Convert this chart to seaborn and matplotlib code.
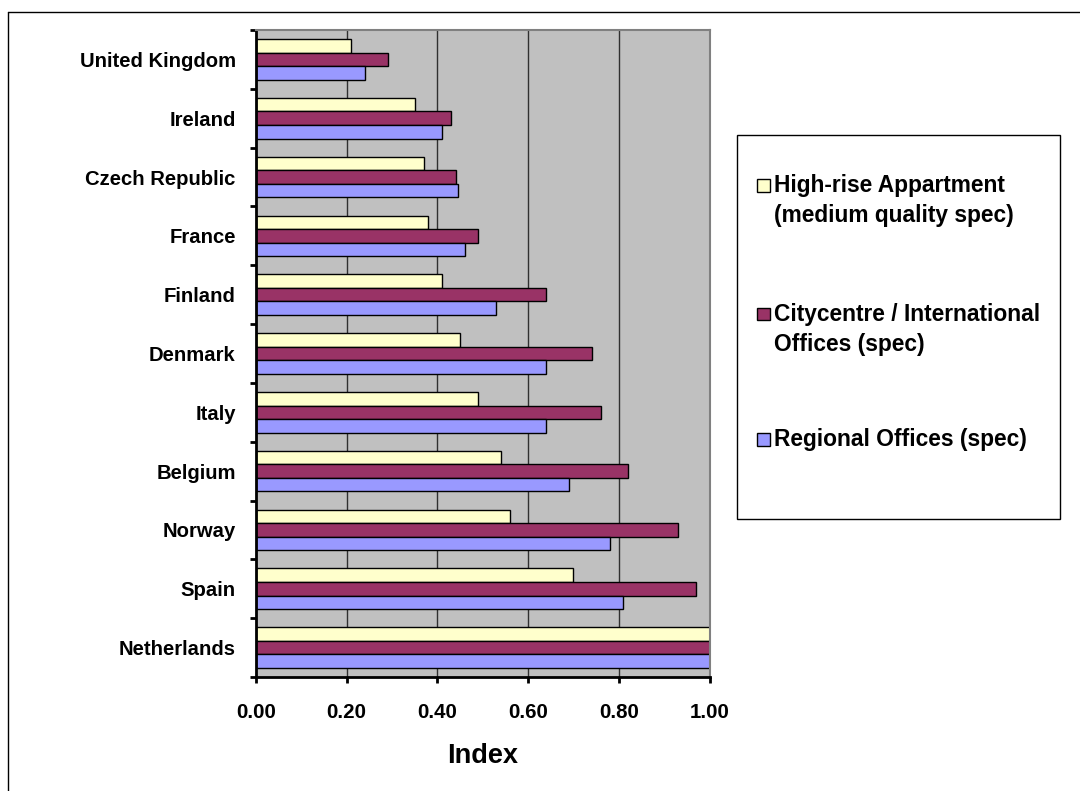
import numpy as np
import pandas as pd
import seaborn as sns
import matplotlib.pyplot as plt
from matplotlib.patches import Rectangle
from matplotlib.lines import Line2D

# Construction cost index by country (Netherlands = 1.00)
countries = ["United Kingdom", "Ireland", "Czech Republic", "France", "Finland",
             "Denmark", "Italy", "Belgium", "Norway", "Spain", "Netherlands"]
series = ["High-rise Appartment\n(medium quality spec)",
          "Citycentre / International\nOffices (spec)",
          "Regional Offices (spec)"]
apartment = [0.21, 0.35, 0.37, 0.38, 0.41, 0.45, 0.49, 0.54, 0.56, 0.70, 1.00]
citycentre = [0.29, 0.43, 0.44, 0.49, 0.64, 0.74, 0.76, 0.82, 0.93, 0.97, 1.00]
regional = [0.24, 0.41, 0.445, 0.46, 0.53, 0.64, 0.64, 0.69, 0.78, 0.81, 1.00]
x_ticks = [0.0, 0.2, 0.4, 0.6, 0.8, 1.0]
colors = ["#FFFFCC", "#993366", "#9999FF"]

df = pd.DataFrame({
    "Country": countries * 3,
    "Series": np.repeat(series, len(countries)),
    "Index": apartment + citycentre + regional,
})

sns.set_theme(style="white")
plt.rcParams["font.family"] = ["Liberation Sans", "DejaVu Sans"]
plt.rcParams.update({"text.color": "black", "axes.labelcolor": "black",
                     "xtick.color": "black", "ytick.color": "black"})

W, H = 1080, 791
fig = plt.figure(figsize=(W / 100, H / 100), dpi=100)
fig.patch.set_facecolor("white")

ax = fig.add_axes([256 / W, 1 - 677 / H, (709.5 - 256) / W, (677 - 30) / H])
ax.set_facecolor("#C0C0C0")

sns.barplot(data=df, y="Country", x="Index", hue="Series",
            order=countries, hue_order=series, palette=colors,
            orient="h", width=0.69, edgecolor="black", linewidth=1,
            saturation=1, legend=False, ax=ax)

ax.set_xlim(0, 1)
ax.set_ylim(len(countries) - 0.5, -0.5)

# vertical gridlines behind the bars
for gx in x_ticks[1:-1]:
    ax.axvline(gx, color="#303030", lw=1, zorder=0.5)

# axis lines
for side in ["left", "bottom"]:
    ax.spines[side].set_color("black")
    ax.spines[side].set_linewidth(2)
for side in ["top", "right"]:
    ax.spines[side].set_color("#808080")
    ax.spines[side].set_linewidth(1.5)

# x axis ticks and labels
ax.set_xticks(x_ticks)
ax.set_xticklabels([f"{v:.2f}" for v in x_ticks], fontsize=14.8, fontweight="bold")
ax.tick_params(axis="x", bottom=True, direction="out", length=4.5, width=2,
               color="black", pad=14.5)

# y axis: labels at category centres, ticks at category boundaries
ax.set_yticks(range(len(countries)))
ax.set_yticklabels(countries, fontsize=14.6, fontweight="bold")
ax.set_yticks(np.arange(-0.5, len(countries), 1), minor=True)
ax.tick_params(axis="y", which="major", left=True, length=0, pad=14.5)
ax.tick_params(axis="y", which="minor", left=True, direction="out",
               length=4.5, width=2, color="black")

ax.set_ylabel("")
ax.set_xlabel("Index", fontsize=19.5, fontweight="bold", labelpad=15)

# outer chart frame
fig.add_artist(Line2D([8 / W, 1.0], [1 - 12 / H, 1 - 12 / H],
                      transform=fig.transFigure, color="black", lw=1))
fig.add_artist(Line2D([8 / W, 8 / W], [0.0, 1 - 12 / H],
                      transform=fig.transFigure, color="black", lw=1))

# legend box
fig.add_artist(Rectangle((737 / W, 1 - 519 / H), (1060 - 737) / W, (519 - 135) / H,
                         transform=fig.transFigure, facecolor="white",
                         edgecolor="black", lw=1))
entry_tops = [179, 308, 433]
for label, color, top in zip(series, colors, entry_tops):
    fig.add_artist(Rectangle((757 / W, 1 - (top + 12.5) / H), 12.5 / W, 12.5 / H,
                             transform=fig.transFigure, facecolor=color,
                             edgecolor="black", lw=1))
    fig.text(774 / W, 1 - (top - 5) / H, label, fontsize=16.4, fontweight="bold",
             va="top", ha="left", linespacing=1.38)

fig.savefig("out.png", dpi=100)
